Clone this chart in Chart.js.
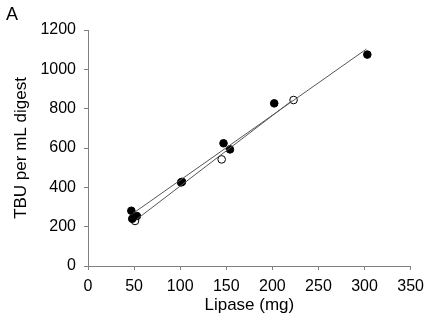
<!DOCTYPE html>
<html>
<head>
<meta charset="utf-8">
<script src="https://cdn.jsdelivr.net/npm/chart.js@4/dist/chart.umd.min.js"></script>
<style>
  html, body { margin: 0; padding: 0; background: #fff; }
  #wrap { width: 431px; height: 334px; }
</style>
</head>
<body>
<div id="wrap"><canvas id="lipaseChart" width="431" height="334"></canvas></div>
<script>
// filled circles
var filledX = [47, 48, 53, 101, 102, 147, 154, 202, 303];
var filledY = [281, 240, 254, 425, 428, 624, 593, 827, 1075];
// open circles
var openX = [51, 145, 223];
var openY = [229, 542, 844];
// regression line end points
var fitFilledX = [49, 302];
var fitFilledY = [268, 1103];
var fitOpenX = [53, 221];
var fitOpenY = [238, 840];

var yTicks = [0, 200, 400, 600, 800, 1000, 1200];
var xTicks = [0, 50, 100, 150, 200, 250, 300, 350];

function punkte(xs, ys) {
  var arr = [];
  for (var i = 0; i < xs.length; i++) {
    arr.push({x: xs[i], y: ys[i]});
  }
  return arr;
}

/* panel letter */
var harfPlugin = {
  id: 'harf',
  afterDraw: function (chart) {
    var c = chart.ctx;
    c.save();
    c.fillStyle = '#000';
    c.font = '18px "Liberation Sans", Arial, sans-serif';
    c.textBaseline = 'top';
    c.fillText('A', 6, 6);
    c.restore();
  }
};

var yazi = '"Liberation Sans", Arial, sans-serif';
var eksenRengi = '#808080';

var ctx = document.getElementById("lipaseChart");
var myChart = new Chart(ctx, {
  type: 'scatter',
  data: {
    datasets: [{
      type: 'line',
      data: punkte(fitFilledX, fitFilledY),
      borderColor: '#555',
      borderWidth: 1,
      pointRadius: 0,
      fill: false
    }, {
      type: 'line',
      data: punkte(fitOpenX, fitOpenY),
      borderColor: '#555',
      borderWidth: 1,
      pointRadius: 0,
      fill: false
    }, {
      data: punkte(filledX, filledY),
      backgroundColor: '#000',
      borderColor: '#000',
      borderWidth: 1,
      pointRadius: 3.8
    }, {
      data: punkte(openX, openY),
      backgroundColor: '#fff',
      borderColor: '#000',
      borderWidth: 1,
      pointRadius: 3.8
    }]
  },
  options: {
    responsive: false,
    animation: false,
    layout: { padding: { top: 30, right: 18, left: 0, bottom: 18 } },
    plugins: {
      legend: { display: false },
      tooltip: { enabled: false }
    },
    scales: {
      x: {
        type: 'linear',
        min: 0,
        max: 350,
        afterBuildTicks: function (scale) {
          scale.ticks = xTicks.map(function (v) { return {value: v}; });
        },
        afterFit: function (scale) { scale.height = 50; },
        grid: { drawOnChartArea: false, drawTicks: true, tickLength: 4, color: eksenRengi },
        border: { color: eksenRengi, width: 1 },
        ticks: {
          color: '#000', font: { family: yazi, size: 16 }, padding: 7, maxRotation: 0,
          callback: function (v) { return String(v); }
        },
        title: { display: true, text: 'Lipase (mg)', color: '#000', font: { family: yazi, size: 17 }, padding: { top: 0, bottom: 0 } }
      },
      y: {
        type: 'linear',
        min: 0,
        max: 1200,
        afterBuildTicks: function (scale) {
          scale.ticks = yTicks.map(function (v) { return {value: v}; });
        },
        afterFit: function (scale) { scale.width = 88; },
        grid: { drawOnChartArea: false, drawTicks: true, tickLength: 4, color: eksenRengi },
        border: { color: eksenRengi, width: 1 },
        ticks: {
          color: '#000', font: { family: yazi, size: 16 }, padding: 8,
          callback: function (v) { return String(v); }
        },
        title: { display: true, text: 'TBU per mL digest', color: '#000', font: { family: yazi, size: 17 }, padding: { top: 11, bottom: 2 } }
      }
    }
  },
  plugins: [harfPlugin]
});
</script>
</body>
</html>
